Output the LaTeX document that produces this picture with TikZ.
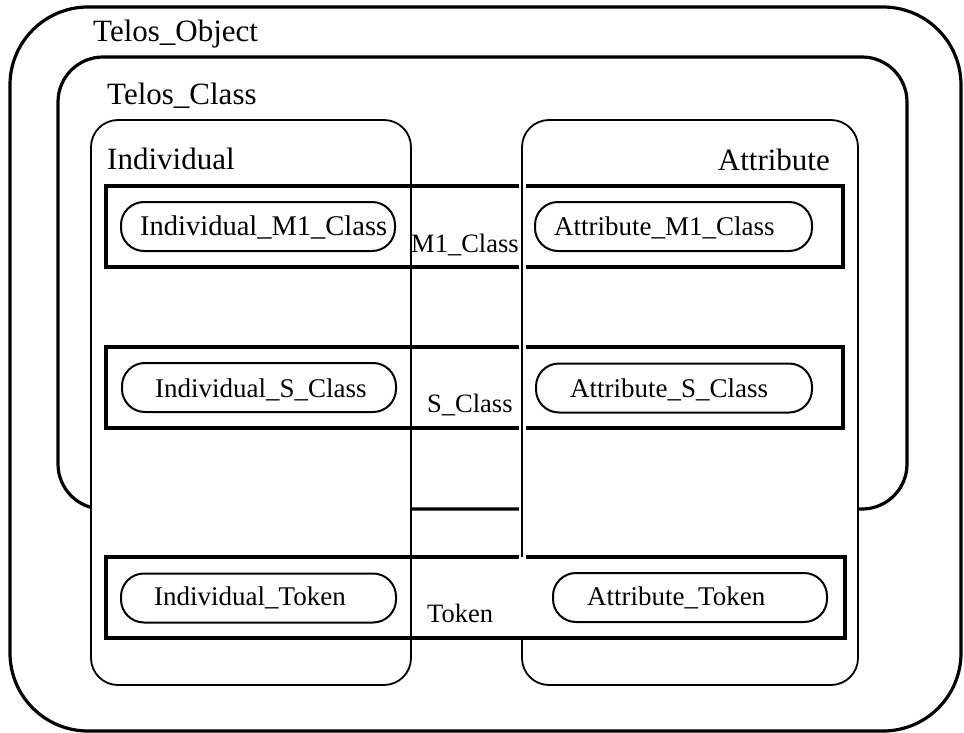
\documentclass[tikz,border=0pt]{standalone}
\usepackage{fontspec}
\setmainfont{Liberation Serif}
\begin{document}
\begin{tikzpicture}[x=1pt,y=-1pt,
  outerbox/.style={line width=3.2pt, rounded corners=#1},
  groupbox/.style={line width=1.8pt, rounded corners=27pt},
  rowbox/.style={line width=4pt},
  oval/.style={draw, line width=2pt, rectangle, rounded corners=23pt, inner sep=0pt, minimum width=#1, minimum height=49pt},
  hdr/.style={font=\fontsize{31}{36}\selectfont, inner sep=0pt},
  ovtxt/.style={font=\fontsize{27}{32}\selectfont, inner sep=0pt, anchor=base west},
  rowtxt/.style={font=\fontsize{26.5}{32}\selectfont, inner sep=0pt, anchor=base west}]
\useasboundingbox (0,0) rectangle (964,733);
% Telos_Object
\draw[outerbox=78pt] (10,7) rectangle (961,731);
\node[hdr, anchor=base west] (tobj) at (93,42) {Telos\_Object};
% Telos_Class
\draw[outerbox=45pt] (58,57) rectangle (907,509);
\node[hdr, anchor=base west] (tcls) at (107,105) {Telos\_Class};
% Individual group
\draw[groupbox, fill=white] (91,120) rectangle (411,685);
\node[hdr, anchor=base west] (indiv) at (107,170) {Individual};
% Attribute group (fill only, outline later)
\fill[white, rounded corners=27pt] (522,120) rectangle (858,685);
\node[hdr, anchor=base east] (attr) at (830,171) {Attribute};
% rows
\draw[rowbox] (106,186) rectangle (843,267);
\draw[rowbox] (106,347) rectangle (843,428);
\draw[rowbox] (106,557) rectangle (845,638);
\node[rowtxt] (m1) at (411,252) {M1\_Class};
\node[rowtxt] (sc) at (427,412) {S\_Class};
\node[rowtxt] (tok) at (427,622) {Token};
% Attribute outline with white halo on its left edge
\draw[white, line width=7pt] (522,150) -- (522,560);
\draw[groupbox] (522,557) -- (522,120) -- (858,120) -- (858,685) -- (522,685) -- (522,640);
% ovals
\node[oval=274pt] (im1o) at (258,226.5) {};
\node[ovtxt, font=\fontsize{28.5}{32}\selectfont] (im1) at (140,235) {Individual\_M1\_Class};
\node[oval=277pt] (am1o) at (673.5,226.5) {};
\node[ovtxt] (am1) at (554,235) {Attribute\_M1\_Class};
\node[oval=274pt] (iso) at (259,387.5) {};
\node[ovtxt] (is) at (155,397) {Individual\_S\_Class};
\node[oval=276pt] (aso) at (674,388) {};
\node[ovtxt] (as) at (570,397) {Attribute\_S\_Class};
\node[oval=275pt] (ito) at (258.5,598) {};
\node[ovtxt] (it) at (154,605) {Individual\_Token};
\node[oval=274pt] (ato) at (690,597.5) {};
\node[ovtxt] (at) at (587,605) {Attribute\_Token};
\end{tikzpicture}
\end{document}
